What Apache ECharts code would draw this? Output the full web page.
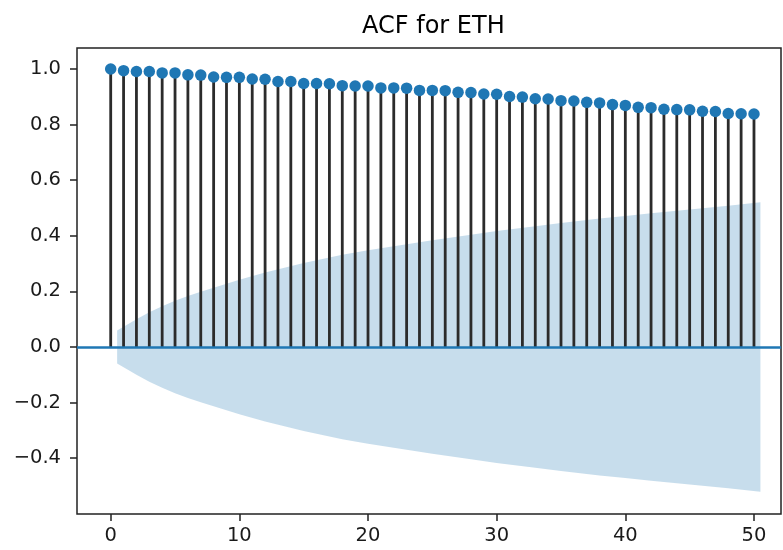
<!DOCTYPE html>
<html><head><meta charset="utf-8">
<script src="https://cdn.jsdelivr.net/npm/echarts@6/dist/echarts.min.js"></script>
<style>html,body{margin:0;padding:0;background:#fff}#c{width:783px;height:550px}</style>
</head><body><div id="c"></div>
<script>
// ---- data ----
const lags = [0,1,2,3,4,5,6,7,8,9,10,11,12,13,14,15,16,17,18,19,20,21,22,23,24,25,26,27,28,29,30,31,32,33,34,35,36,37,38,39,40,41,42,43,44,45,46,47,48,49,50];
const acfValues = [1.000,0.994,0.991,0.991,0.986,0.986,0.979,0.978,0.971,0.970,0.970,0.964,0.963,0.955,0.955,0.948,0.948,0.947,0.940,0.939,0.939,0.932,0.932,0.931,0.923,0.923,0.922,0.916,0.915,0.910,0.909,0.901,0.899,0.893,0.892,0.886,0.885,0.880,0.878,0.872,0.869,0.862,0.861,0.855,0.854,0.853,0.848,0.847,0.840,0.839,0.838];
const bandLags  = [0.5,2,3,4,5,6,7,8,10,12,15,18,20,22,25,28,30,33,35,38,40,42,45,48,50.5];
const bandUpper = [0.059,0.100,0.125,0.147,0.166,0.183,0.199,0.213,0.242,0.268,0.302,0.332,0.348,0.362,0.384,0.404,0.417,0.434,0.446,0.462,0.471,0.481,0.495,0.508,0.521];
const bandLower = [-0.059,-0.100,-0.125,-0.147,-0.166,-0.183,-0.199,-0.213,-0.242,-0.268,-0.302,-0.332,-0.348,-0.362,-0.384,-0.404,-0.417,-0.434,-0.446,-0.462,-0.471,-0.481,-0.495,-0.508,-0.521];
const xTicks = [0,10,20,30,40,50];
const yTicks = [-0.4,-0.2,0.0,0.2,0.4,0.6,0.8,1.0];
const titleText = 'ACF for ETH';

const FONT = 'DejaVu Sans';
const BLUE = '#1f77b4';
const BAND = 'rgba(31,119,180,0.25)';
const fmtY = v => (v < -1e-9 ? '\u2212' : '') + Math.abs(v).toFixed(1);

const chart = echarts.init(document.getElementById('c'), null, {renderer: 'canvas'});
chart.setOption({
  animation: false,
  backgroundColor: '#fff',
  title: {
    text: titleText, left: 357, top: 10,
    textStyle: {fontFamily: FONT, fontSize: 24, fontWeight: 'normal', color: '#000'}
  },
  grid: {left: 77, right: 2, top: 48, bottom: 36, show: true, borderColor: '#222', borderWidth: 1.5, backgroundColor: 'transparent'},
  xAxis: {
    type: 'value', min: -2.62, max: 52.1,
    axisLine: {show: false, onZero: false},
    splitLine: {show: false},
    axisTick: {show: true, inside: false, length: 7, lineStyle: {color: '#222', width: 1.5}, customValues: xTicks},
    axisLabel: {customValues: xTicks, fontFamily: FONT, fontSize: 19.5, color: '#1a1a1a', margin: 12, formatter: v => String(v)}
  },
  yAxis: {
    type: 'value', min: -0.6007, max: 1.0755,
    axisLine: {show: false, onZero: false},
    splitLine: {show: false},
    axisTick: {show: true, inside: false, length: 7, lineStyle: {color: '#222', width: 1.5}, customValues: yTicks},
    axisLabel: {customValues: yTicks, fontFamily: FONT, fontSize: 19.5, color: '#1a1a1a', margin: 16, formatter: fmtY}
  },
  series: [
    {
      type: 'line', name: 'upper', z: 1, symbol: 'none', silent: true,
      data: bandLags.map((l, i) => [l, bandUpper[i]]),
      lineStyle: {width: 0, opacity: 0},
      areaStyle: {color: BAND, opacity: 1, origin: 'auto'}
    },
    {
      type: 'line', name: 'lower', z: 1, symbol: 'none', silent: true,
      data: bandLags.map((l, i) => [l, bandLower[i]]),
      lineStyle: {width: 0, opacity: 0},
      areaStyle: {color: BAND, opacity: 1, origin: 'auto'}
    },
    {
      type: 'custom', name: 'stems', z: 2, silent: true,
      data: lags.map((l, i) => [l, acfValues[i]]),
      encode: {x: 0, y: 1},
      renderItem: (params, api) => {
        const p0 = api.coord([api.value(0), 0]);
        const p1 = api.coord([api.value(0), api.value(1)]);
        return {type: 'line', shape: {x1: p0[0], y1: p0[1], x2: p1[0], y2: p1[1]},
                style: {stroke: '#2b2b2b', lineWidth: 2.8}};
      }
    },
    {
      type: 'scatter', name: 'acf', z: 4, silent: true,
      data: lags.map((l, i) => [l, acfValues[i]]),
      symbol: 'circle', symbolSize: 11.5,
      itemStyle: {color: BLUE, opacity: 1},
      markLine: {
        silent: true, symbol: ['none', 'none'], label: {show: false},
        lineStyle: {color: BLUE, width: 2.5, type: 'solid', opacity: 1},
        data: [{yAxis: 0}]
      }
    }
  ]
});
</script>
</body></html>
